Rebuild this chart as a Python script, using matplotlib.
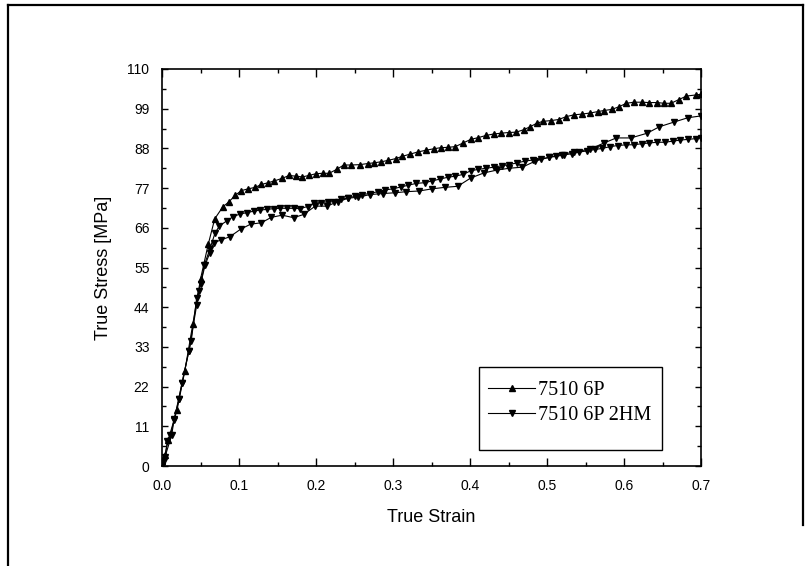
import matplotlib
matplotlib.use("Agg")
import matplotlib.pyplot as plt
from matplotlib.lines import Line2D
from matplotlib.patches import Rectangle

# ---------------- data ----------------
strain_a = [0.000, 0.004, 0.008, 0.0195, 0.0296, 0.040, 0.050, 0.060, 0.0685, 0.079, 0.087, 0.095,
            0.103, 0.112, 0.121, 0.129, 0.138, 0.146, 0.156, 0.165, 0.174, 0.182, 0.191, 0.200,
            0.209, 0.217, 0.227, 0.236, 0.246, 0.257, 0.267, 0.275, 0.285, 0.294, 0.304, 0.312,
            0.322, 0.332, 0.343, 0.353, 0.362, 0.372, 0.381, 0.391, 0.401, 0.411, 0.421, 0.431,
            0.440, 0.450, 0.460, 0.470, 0.478, 0.487, 0.495, 0.505, 0.515, 0.525, 0.535, 0.545,
            0.556, 0.566, 0.574, 0.584, 0.593, 0.603, 0.613, 0.623, 0.633, 0.643, 0.652, 0.661,
            0.671, 0.681, 0.693, 0.700]
stress_a = [0.0, 3.0, 7.2, 15.5, 26.3, 39.3, 51.8, 61.4, 68.5, 71.8, 73.2, 75.0,
            76.3, 76.8, 77.2, 78.0, 78.5, 79.0, 79.7, 80.5, 80.3, 80.1, 80.5, 81.0,
            81.1, 81.1, 82.2, 83.4, 83.4, 83.5, 83.8, 84.0, 84.3, 84.7, 85.2, 85.8,
            86.4, 87.0, 87.5, 87.9, 88.2, 88.3, 88.5, 89.5, 90.5, 91.0, 91.6, 92.0,
            92.2, 92.4, 92.5, 93.2, 94.0, 95.0, 95.5, 95.7, 96.0, 96.8, 97.3, 97.5,
            97.8, 98.2, 98.5, 98.8, 99.5, 100.5, 100.8, 100.8, 100.7, 100.7, 100.5, 100.5,
            101.5, 102.5, 102.8, 103.0]

strain_b1 = [0.000, 0.004, 0.0126, 0.0156, 0.022, 0.026, 0.035, 0.038, 0.045, 0.050, 0.055, 0.062,
             0.0688, 0.0745, 0.084, 0.0926, 0.101, 0.110, 0.119, 0.127, 0.136, 0.145, 0.153,
             0.162, 0.171, 0.179, 0.189, 0.197, 0.206, 0.215, 0.223, 0.233, 0.242, 0.250,
             0.260, 0.270, 0.280, 0.290, 0.300, 0.310, 0.320, 0.330, 0.341, 0.351, 0.361,
             0.371, 0.381, 0.391, 0.401, 0.411, 0.421, 0.431, 0.441, 0.451, 0.461, 0.472,
             0.482, 0.492, 0.502, 0.512, 0.522, 0.532, 0.542, 0.552, 0.562, 0.572, 0.582,
             0.592, 0.603, 0.613, 0.623, 0.633, 0.643, 0.653, 0.663, 0.673, 0.683, 0.693, 0.700]
stress_b1 = [0.0, 2.6, 8.6, 12.7, 18.5, 23.0, 31.9, 34.7, 46.5, 50.3, 55.7, 60.0,
             64.5, 66.5, 67.9, 69.1, 69.8, 70.2, 70.6, 70.9, 71.1, 71.3, 71.4,
             71.4, 71.4, 71.3, 71.9, 72.8, 73.0, 73.2, 73.2, 73.9, 74.3, 74.7,
             75.2, 75.5, 76.0, 76.5, 76.8, 77.3, 77.8, 78.3, 78.5, 79.0, 79.5,
             80.0, 80.3, 80.8, 81.8, 82.2, 82.5, 82.8, 83.2, 83.5, 84.0, 84.5,
             84.8, 85.0, 85.5, 85.8, 86.2, 86.5, 87.0, 87.3, 87.7, 88.0, 88.5,
             88.8, 89.0, 89.0, 89.3, 89.5, 89.7, 89.7, 90.0, 90.3, 90.5, 90.7, 91.0]

strain_b2 = [0.000, 0.003, 0.007, 0.011, 0.016, 0.0215, 0.026, 0.035, 0.045, 0.048, 0.056, 0.062,
             0.067, 0.077, 0.088, 0.102, 0.115, 0.129, 0.142, 0.156, 0.171, 0.184, 0.199,
             0.214, 0.228, 0.242, 0.255, 0.270, 0.287, 0.302, 0.317, 0.334, 0.351, 0.367,
             0.384, 0.401, 0.418, 0.435, 0.451, 0.468, 0.485, 0.502, 0.519, 0.535, 0.556,
             0.574, 0.590, 0.609, 0.630, 0.646, 0.665, 0.683, 0.700]
stress_b2 = [0.0, 1.5, 6.8, 8.5, 13.0, 18.5, 23.0, 32.0, 44.5, 48.5, 55.7, 59.0,
             61.8, 62.7, 63.5, 65.6, 67.0, 67.4, 68.9, 69.5, 68.8, 69.7, 72.0,
             72.0, 73.2, 74.2, 74.5, 75.2, 75.5, 75.7, 76.0, 76.2, 76.8, 77.2,
             77.5, 79.8, 81.2, 82.0, 82.5, 82.8, 84.5, 85.5, 86.3, 87.0, 87.8,
             89.5, 90.9, 90.9, 92.2, 94.0, 95.3, 96.5, 97.0]

label_a = "7510 6P"
label_b = "7510 6P 2HM"
x_ticks = [0.0, 0.1, 0.2, 0.3, 0.4, 0.5, 0.6, 0.7]
y_ticks = [0, 11, 22, 33, 44, 55, 66, 77, 88, 99, 110]

# ---------------- figure ----------------
plt.rcParams['font.family'] = ['Liberation Sans', 'DejaVu Sans']
W, H = 811, 566
fig = plt.figure(figsize=(W/100, H/100), dpi=100)
x0, x1, y0, y1 = 162, 701, 69, 466
ax = fig.add_axes([x0/W, 1-y1/H, (x1-x0)/W, (y1-y0)/H])

def ax_frac(px, py):
    return ((px - x0)/(x1 - x0), (y1 - py)/(y1 - y0))

lw = 0.8
ms = 4.2
ax.plot(strain_a, stress_a, color='black', lw=lw, marker='^', ms=ms, label=label_a)
ax.plot(strain_b1, stress_b1, color='black', lw=lw, marker='v', ms=ms, label=label_b)
ax.plot(strain_b2, stress_b2, color='black', lw=lw, marker='v', ms=ms)

ax.set_xlim(0, 0.7)
ax.set_ylim(0, 110)
ax.set_xticks(x_ticks)
ax.set_xticklabels([f"{v:.1f}" for v in x_ticks])
ax.set_yticks(y_ticks)
ax.set_yticklabels([str(v) for v in y_ticks])
ax.set_xticks([0.05 + 0.1*i for i in range(7)], minor=True)
ax.set_yticks([5.5 + 11*i for i in range(10)], minor=True)

ax.tick_params(which='both', direction='in', top=True, right=True, width=1.0, labelsize=10)
ax.tick_params(axis='x', which='major', length=6, pad=9)
ax.tick_params(axis='y', which='major', length=4, pad=9)
ax.tick_params(which='minor', length=3)
for s in ax.spines.values():
    s.set_linewidth(1.2)

ax.set_xlabel("True Strain", fontsize=13, labelpad=12)
ax.set_ylabel("True Stress [MPa]", fontsize=13, labelpad=11)

# legend box (drawn as rectangle) + legend entries
bx0, by0 = ax_frac(479, 450)
bx1, by1 = ax_frac(662, 367)
ax.add_patch(Rectangle((bx0, by0), bx1 - bx0, by1 - by0, transform=ax.transAxes,
                       facecolor='white', edgecolor='black', lw=1.0, zorder=4))
lx, ly = ax_frac(488, 381)
leg = ax.legend(loc='upper left', bbox_to_anchor=(lx, ly),
                prop={'family': 'Liberation Serif', 'size': 14.5},
                frameon=False, handlelength=2.35, handletextpad=0.15,
                labelspacing=0.3, borderpad=0.0, borderaxespad=0.0)
leg.set_zorder(5)

# figure border
fig.add_artist(Line2D([8/W, 8/W], [0, 1-5/H], transform=fig.transFigure, color='black', lw=1.6))
fig.add_artist(Line2D([8/W, 803/W], [1-5/H, 1-5/H], transform=fig.transFigure, color='black', lw=1.6))
fig.add_artist(Line2D([803/W, 803/W], [1-5/H, 1-525/H], transform=fig.transFigure, color='black', lw=1.6))

fig.savefig("out.png", dpi=100)
